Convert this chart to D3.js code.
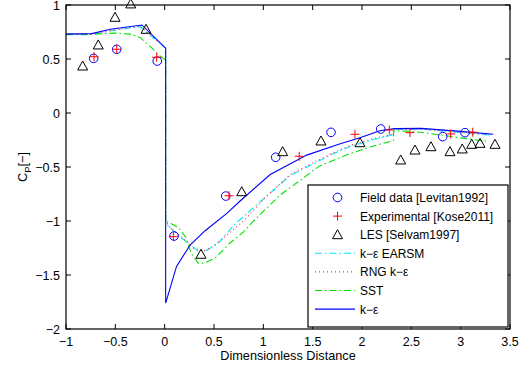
<!DOCTYPE html>
<html>
<head>
<meta charset="utf-8">
<script src="https://cdn.jsdelivr.net/npm/d3@7"></script>
<style>
  body { margin: 0; background: #fff; }
  text { font-family: "Liberation Sans", Arial, sans-serif; }
</style>
</head>
<body>
<div id="chart"></div>
<script>
// measured data
var fieldData = [[-0.72, 0.506], [-0.486, 0.59], [-0.075, 0.481], [0.095, -1.139], [0.619, -0.769],
  [1.125, -0.41], [1.686, -0.179], [2.19, -0.148], [2.818, -0.219], [3.044, -0.182]];
var experimental = [[-0.716, 0.521], [-0.486, 0.59], [-0.081, 0.516], [0.088, -1.145], [0.652, -0.766],
  [1.364, -0.401], [1.929, -0.197], [2.277, -0.157], [2.486, -0.182], [2.899, -0.194], [3.122, -0.178]];
var les = [[-0.831, 0.435], [-0.673, 0.63], [-0.503, 0.886], [-0.344, 1.01], [-0.189, 0.775],
  [0.368, -1.308], [0.781, -0.729], [1.196, -0.358], [1.584, -0.259], [1.98, -0.275], [2.392, -0.435],
  [2.537, -0.343], [2.699, -0.312], [2.892, -0.358], [3.016, -0.333], [3.112, -0.29], [3.196, -0.281], [3.348, -0.29]];

// simulations
var earsm = [[-1, 0.725], [-0.74, 0.725], [-0.55, 0.76], [-0.25, 0.8], [0.01, 0.6], [0.01, -1.02],
  [0.08, -1.08], [0.16, -1.15], [0.26, -1.22], [0.34, -1.28], [0.43, -1.27], [0.56, -1.19], [0.7, -1.04],
  [0.87, -0.9], [0.97, -0.82], [1.27, -0.58], [1.68, -0.39], [1.88, -0.31], [2.1, -0.25], [2.32, -0.2],
  [2.32, -0.155], [2.6, -0.15], [3.0, -0.18], [3.3, -0.205]];
var rng = [[-1, 0.73], [-0.74, 0.73], [-0.55, 0.765], [-0.25, 0.805], [0.01, 0.6], [0.01, -1.0],
  [0.06, -1.07], [0.19, -1.16], [0.29, -1.25], [0.39, -1.28], [0.5, -1.23], [0.63, -1.13], [0.8, -1.0],
  [0.9, -0.9], [1.0, -0.8], [1.27, -0.57], [1.68, -0.38], [1.88, -0.3], [2.1, -0.24], [2.32, -0.195],
  [2.32, -0.15], [2.6, -0.148], [3.0, -0.178], [3.3, -0.2]];
var sst = [[-1, 0.73], [-0.7, 0.73], [-0.5, 0.74], [-0.35, 0.73], [-0.25, 0.7], [-0.15, 0.62],
  [-0.05, 0.53], [0.01, 0.49], [0.01, -1.0], [0.14, -1.06], [0.21, -1.145], [0.27, -1.3], [0.34, -1.39],
  [0.4, -1.39], [0.51, -1.345], [0.66, -1.206], [0.8, -1.1], [0.9, -1.0], [1.17, -0.76], [1.57, -0.49],
  [1.88, -0.375], [2.1, -0.31], [2.32, -0.255], [2.32, -0.165], [2.5, -0.17], [2.65, -0.185],
  [3.0, -0.23], [3.28, -0.265]];
var ke = [[-1, 0.73], [-0.74, 0.735], [-0.55, 0.775], [-0.23, 0.815], [0.01, 0.6], [0.01, -1.76],
  [0.12, -1.42], [0.26, -1.22], [0.41, -1.09], [0.63, -0.93], [0.77, -0.81], [1.07, -0.57], [1.44, -0.39],
  [1.78, -0.285], [1.98, -0.23], [2.18, -0.165], [2.33, -0.145], [2.6, -0.142], [3.0, -0.17], [3.33, -0.197]];

var xTicks = [-1, -0.5, 0, 0.5, 1, 1.5, 2, 2.5, 3, 3.5];
var yTicks = [-2, -1.5, -1, -0.5, 0, 0.5, 1];
var legendLabels = ["Field data [Levitan1992]", "Experimental [Kose2011]", "LES [Selvam1997]",
  "k\u2212\u03b5 EARSM", "RNG k\u2212\u03b5", "SST", "k\u2212\u03b5"];

var W = 526, H = 369;
// plot box (window.top is read-only, so keep these names distinct)
var pLeft = 66, pRight = 510, pTop = 5, pBottom = 329;

var svg = d3.select("#chart").append("svg").attr("width", W).attr("height", H);

var x = d3.scaleLinear().domain([-1, 3.5]).range([pLeft, pRight]);
var y = d3.scaleLinear().domain([-2, 1]).range([pBottom, pTop]);

var fmt = function (d) { return String(d).replace("-", "\u2212"); };

// lines
var line = d3.line().x(function (d) { return x(d[0]); }).y(function (d) { return y(d[1]); });

var series = [
  { data: earsm, color: "#00e5ff", dash: "7,3,1.5,3" },
  { data: rng, color: "#ff3030", dash: "1,3" },
  { data: sst, color: "#00e000", dash: "7,3,1.5,3" },
  { data: ke, color: "#0000ff", dash: null }
];

series.forEach(function (s) {
  svg.append("path")
    .attr("d", line(s.data))
    .attr("fill", "none")
    .attr("stroke", s.color)
    .attr("stroke-width", 1.1)
    .attr("stroke-dasharray", s.dash);
});

// markers
var circleMark = function (g, px, py) {
  g.append("circle").attr("cx", px).attr("cy", py).attr("r", 4.3)
    .attr("fill", "none").attr("stroke", "#0000ff").attr("stroke-width", 1);
};
var plusMark = function (g, px, py) {
  g.append("path").attr("d", "M" + (px - 4.5) + "," + py + "H" + (px + 4.5) + "M" + px + "," + (py - 4.5) + "V" + (py + 4.5))
    .attr("stroke", "#ff0000").attr("stroke-width", 1).attr("fill", "none");
};
var triMark = function (g, px, py) {
  g.append("path").attr("d", "M" + px + "," + (py - 5) + "L" + (px + 5) + "," + (py + 4) + "L" + (px - 5) + "," + (py + 4) + "Z")
    .attr("stroke", "#000").attr("stroke-width", 1).attr("fill", "none");
};

fieldData.forEach(function (d) { circleMark(svg, x(d[0]), y(d[1])); });
experimental.forEach(function (d) { plusMark(svg, x(d[0]), y(d[1])); });
les.forEach(function (d) { triMark(svg, x(d[0]), y(d[1])); });

// axes box with inward ticks
svg.append("rect").attr("x", pLeft).attr("y", pTop).attr("width", pRight - pLeft).attr("height", pBottom - pTop)
  .attr("fill", "none").attr("stroke", "#000").attr("stroke-width", 1.2);

var tickLen = 5;
xTicks.forEach(function (t) {
  svg.append("line").attr("x1", x(t)).attr("x2", x(t)).attr("y1", pBottom).attr("y2", pBottom - tickLen).attr("stroke", "#000");
  svg.append("line").attr("x1", x(t)).attr("x2", x(t)).attr("y1", pTop).attr("y2", pTop + tickLen).attr("stroke", "#000");
  svg.append("text").attr("x", x(t)).attr("y", pBottom + 17).attr("text-anchor", "middle")
    .style("font-size", "12.5px").text(fmt(t));
});
yTicks.forEach(function (t) {
  svg.append("line").attr("x1", pLeft).attr("x2", pLeft + tickLen).attr("y1", y(t)).attr("y2", y(t)).attr("stroke", "#000");
  svg.append("line").attr("x1", pRight).attr("x2", pRight - tickLen).attr("y1", y(t)).attr("y2", y(t)).attr("stroke", "#000");
  svg.append("text").attr("x", pLeft - 6).attr("y", y(t) + 4.5).attr("text-anchor", "end")
    .style("font-size", "12.5px").text(fmt(t));
});

// axis labels
svg.append("text").attr("x", (pLeft + pRight) / 2).attr("y", 360).attr("text-anchor", "middle")
  .style("font-size", "12.7px").text("Dimensionless Distance");

var yl = svg.append("text").attr("transform", "translate(27,167) rotate(-90)").attr("text-anchor", "middle")
  .style("font-size", "12.7px");
yl.append("tspan").text("C");
yl.append("tspan").attr("dy", 3.5).style("font-size", "9.5px").text("P");
yl.append("tspan").attr("dy", -3.5).text("[\u2212]");

// legend
var lg = svg.append("g");
lg.append("rect").attr("x", 308).attr("y", 185).attr("width", 200).attr("height", 142)
  .attr("fill", "#fff").attr("stroke", "#000").attr("stroke-width", 1.2);

legendLabels.forEach(function (label, i) {
  var ly = 197.5 + i * 18.6;
  if (i === 0) circleMark(lg, 337.5, ly);
  else if (i === 1) plusMark(lg, 337.5, ly);
  else if (i === 2) triMark(lg, 337.5, ly);
  else {
    var s = series[i - 3];
    lg.append("line").attr("x1", 315).attr("x2", 355).attr("y1", ly).attr("y2", ly)
      .attr("stroke", s.color).attr("stroke-width", 1.1).attr("stroke-dasharray", s.dash);
  }
  lg.append("text").attr("x", 360).attr("y", ly + 4.5).style("font-size", "12px").text(label);
});
</script>
</body>
</html>
